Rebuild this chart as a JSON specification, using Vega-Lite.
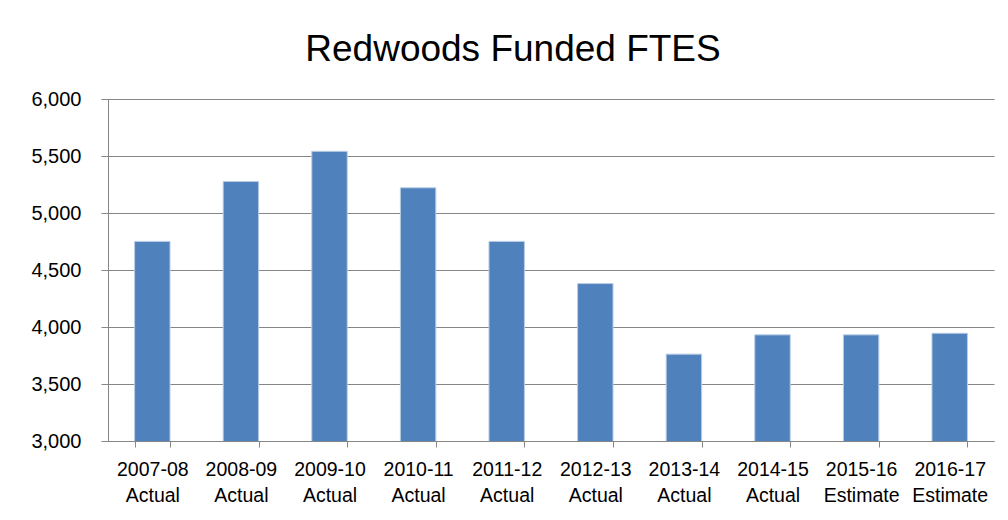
{
  "$schema": "https://vega.github.io/schema/vega-lite/v6.json",
  "width": 886,
  "height": 342,
  "autosize": {"type": "none"},
  "padding": {"left": 108, "top": 99, "right": 14, "bottom": 79},
  "background": "white",
  "title": {
    "text": "Redwoods Funded FTES",
    "font": "Liberation Sans",
    "fontSize": 37,
    "fontWeight": "normal",
    "color": "#000000",
    "anchor": "middle",
    "frame": "group",
    "dx": -38,
    "offset": 20
  },
  "data": {
    "values": [
      {"year": "2007-08", "type": "Actual", "ftes": 4751},
      {"year": "2008-09", "type": "Actual", "ftes": 5276},
      {"year": "2009-10", "type": "Actual", "ftes": 5541},
      {"year": "2010-11", "type": "Actual", "ftes": 5221},
      {"year": "2011-12", "type": "Actual", "ftes": 4751},
      {"year": "2012-13", "type": "Actual", "ftes": 4381},
      {"year": "2013-14", "type": "Actual", "ftes": 3762},
      {"year": "2014-15", "type": "Actual", "ftes": 3931},
      {"year": "2015-16", "type": "Estimate", "ftes": 3931},
      {"year": "2016-17", "type": "Estimate", "ftes": 3945}
    ]
  },
  "mark": {"type": "bar", "color": "#4F81BD", "stroke": "#b9cde5", "strokeWidth": 1, "clip": true},
  "encoding": {
    "x": {
      "field": "year",
      "type": "nominal",
      "sort": null,
      "scale": {"paddingInner": 0.6, "paddingOuter": 0.3},
      "axis": {
        "title": null,
        "labelAngle": 0,
        "labelAlign": "center",
        "labelExpr": "datum.label ? [datum.label, datum.label == '2015-16' || datum.label == '2016-17' ? 'Estimate' : 'Actual'] : ''",
        "labelFont": "Liberation Sans",
        "labelFontSize": 19.5,
        "labelColor": "#000000",
        "labelLineHeight": 26,
        "labelPadding": 13,
        "labelOverlap": false,
        "tickBand": "extent",
        "tickSize": 6,
        "tickColor": "#868686",
        "domainColor": "#868686",
        "grid": false
      }
    },
    "y": {
      "field": "ftes",
      "type": "quantitative",
      "scale": {"domain": [3000, 6000], "zero": false, "nice": false},
      "axis": {
        "title": null,
        "values": [3000, 3500, 4000, 4500, 5000, 5500, 6000],
        "format": ",.0f",
        "labelFont": "Liberation Sans",
        "labelFontSize": 20,
        "labelColor": "#000000",
        "labelPadding": 20,
        "tickSize": 7,
        "tickColor": "#868686",
        "domainColor": "#868686",
        "gridColor": "#868686",
        "gridWidth": 1,
        "gridOpacity": 1
      }
    }
  },
  "config": {
    "view": {"stroke": null},
    "axis": {"domainWidth": 1, "tickWidth": 1}
  }
}
